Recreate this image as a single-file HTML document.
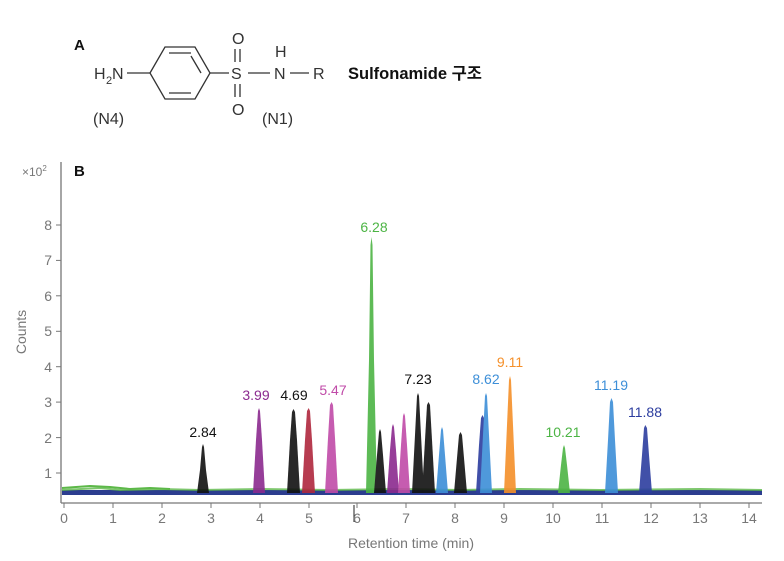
<!DOCTYPE html>
<html><head><meta charset="utf-8"><style>
body{margin:0;background:#fff;}
svg{display:block;font-family:"Liberation Sans","Noto Sans CJK KR",sans-serif;}
</style></head><body>
<svg width="784" height="561" viewBox="0 0 784 561">
<!-- Part A -->
<text x="74" y="50" font-size="15" font-weight="bold" fill="#111">A</text>
<g fill="#333" font-size="16" stroke="none">
<text x="94" y="79">H</text><text x="106" y="84" font-size="11">2</text><text x="112" y="79">N</text>
<text x="231" y="79">S</text>
<text x="232" y="44">O</text>
<text x="232" y="115">O</text>
<text x="274" y="79">N</text>
<text x="275" y="57">H</text>
<text x="313" y="79">R</text>
<text x="93" y="124">(N4)</text>
<text x="262" y="124">(N1)</text>
</g>
<g stroke="#333" stroke-width="1.3" fill="none">
<line x1="127" y1="73" x2="150" y2="73"/>
<polygon points="150,73 165,47 195,47 210,73 195,99 165,99"/>
<line x1="169" y1="53" x2="191" y2="53"/>
<line x1="169" y1="93" x2="191" y2="93"/>
<line x1="201" y1="73" x2="191" y2="56" />
<line x1="210" y1="73" x2="229" y2="73"/>
<line x1="235" y1="49" x2="235" y2="62"/><line x1="240" y1="49" x2="240" y2="62"/>
<line x1="235" y1="84" x2="235" y2="97"/><line x1="240" y1="84" x2="240" y2="97"/>
<line x1="248" y1="73" x2="270" y2="73"/>
<line x1="290" y1="73" x2="309" y2="73"/>
</g>
<text x="348" y="79" font-size="16.5" font-weight="bold" fill="#111">Sulfonamide 구조</text>

<!-- Part B -->
<text x="74" y="176" font-size="15" font-weight="bold" fill="#111">B</text>
<text x="22" y="176" font-size="12" fill="#777">×10<tspan font-size="8" dy="-5">2</tspan></text>
<g stroke="#777" stroke-width="1.3">
<line x1="61" y1="162" x2="61" y2="503"/>
<line x1="61" y1="503" x2="762" y2="503"/>
</g>
<g stroke="#777" stroke-width="1">
<line x1="56" y1="473" x2="61" y2="473"/><line x1="56" y1="437.6" x2="61" y2="437.6"/>
<line x1="56" y1="402.1" x2="61" y2="402.1"/><line x1="56" y1="366.7" x2="61" y2="366.7"/>
<line x1="56" y1="331.3" x2="61" y2="331.3"/><line x1="56" y1="295.8" x2="61" y2="295.8"/>
<line x1="56" y1="260.4" x2="61" y2="260.4"/><line x1="56" y1="225" x2="61" y2="225"/>
<line x1="64" y1="503" x2="64" y2="508"/><line x1="113" y1="503" x2="113" y2="508"/>
<line x1="162" y1="503" x2="162" y2="508"/><line x1="211" y1="503" x2="211" y2="508"/>
<line x1="260" y1="503" x2="260" y2="508"/><line x1="309" y1="503" x2="309" y2="508"/>
<line x1="357" y1="503" x2="357" y2="508"/><line x1="406" y1="503" x2="406" y2="508"/>
<line x1="455" y1="503" x2="455" y2="508"/><line x1="504" y1="503" x2="504" y2="508"/>
<line x1="553" y1="503" x2="553" y2="508"/><line x1="602" y1="503" x2="602" y2="508"/>
<line x1="651" y1="503" x2="651" y2="508"/><line x1="700" y1="503" x2="700" y2="508"/>
<line x1="749" y1="503" x2="749" y2="508"/>
<line x1="354" y1="505" x2="354" y2="522" stroke="#222"/>
</g>
<g font-size="14" fill="#777" text-anchor="end">
<text x="52" y="478">1</text><text x="52" y="443">2</text><text x="52" y="407">3</text>
<text x="52" y="372">4</text><text x="52" y="336">5</text><text x="52" y="301">6</text>
<text x="52" y="265">7</text><text x="52" y="230">8</text>
</g>
<g font-size="14" fill="#777" text-anchor="middle">
<text x="64" y="523">0</text><text x="113" y="523">1</text><text x="162" y="523">2</text>
<text x="211" y="523">3</text><text x="260" y="523">4</text><text x="309" y="523">5</text>
<text x="357" y="523">6</text><text x="406" y="523">7</text><text x="455" y="523">8</text>
<text x="504" y="523">9</text><text x="553" y="523">10</text><text x="602" y="523">11</text>
<text x="651" y="523">12</text><text x="700" y="523">13</text><text x="749" y="523">14</text>
<text x="411" y="548">Retention time (min)</text>
</g>
<text transform="translate(26,332) rotate(-90)" font-size="14" fill="#777" text-anchor="middle">Counts</text>

<!-- baseline -->
<rect x="62" y="490" width="700" height="5" fill="#2c3d8f"/>
<path d="M62,490 L100,488 L120,490 L160,489 L200,490 L260,489 L330,490 L400,489 L460,490 L520,489 L600,490 L700,489 L762,490" stroke="#5cb848" stroke-width="2" fill="none" opacity="0.8"/>
<path d="M62,488 L90,486 L110,487 L130,489 L150,488 L170,489" stroke="#5cb848" stroke-width="2" fill="none"/>

<!-- peaks: base 493 -->
<g opacity="0.9">
<path d="M197,493 L200,470 L202,447 L203,444 L204,447 L206,470 L209,493Z" fill="#111"/>
<path d="M253,493 L256,440 L258,411 L259,408 L260,411 L262,440 L265,493Z" fill="#8b2a8f"/>
<path d="M287,493 L290,440 L292,412 L293.5,409 L295,412 L297,440 L300,493Z" fill="#111"/>
<path d="M302,493 L305,440 L307,411 L308.7,408 L310,411 L312,440 L315,493Z" fill="#b0283e"/>
<path d="M325,493 L328,438 L330,405 L331.6,402 L333,405 L335,438 L338,493Z" fill="#c04ba8"/>
<path d="M366,493 L369,360 L370.5,245 L371.5,237 L372.5,245 L374,360 L377,493Z" fill="#4cb444"/>
<path d="M374,493 L377,455 L379,432 L380,429 L381,432 L383,455 L386,493Z" fill="#111"/>
<path d="M387,493 L390,450 L392,427 L393,424 L394,427 L396,450 L399,493Z" fill="#8b2a8f"/>
<path d="M398,493 L401,445 L403,416 L404,413 L405,416 L407,445 L410,493Z" fill="#c04ba8"/>
<path d="M412,493 L415,435 L417,396 L418,393 L419,396 L421,435 L424,493Z" fill="#111"/>
<path d="M422,493 L425,440 L427,405 L428.5,402 L430,405 L432,440 L435,493Z" fill="#111"/>
<path d="M436,493 L439,455 L441,430 L442,427 L443,430 L445,455 L448,493Z" fill="#3d8fd8"/>
<path d="M454,493 L457,458 L459,435 L460.5,432 L462,435 L464,458 L467,493Z" fill="#111"/>
<path d="M476,493 L479,445 L481,418 L482.5,415 L484,418 L486,445 L489,493Z" fill="#2c3d9f"/>
<path d="M480,493 L483,435 L485,396 L486,393 L487,396 L489,435 L492,493Z" fill="#3d8fd8"/>
<path d="M504,493 L507,425 L509,380 L510,376 L511,380 L513,425 L516,493Z" fill="#f5902a"/>
<path d="M558,493 L561,465 L563,448 L564,445 L565,448 L567,465 L570,493Z" fill="#4cb444"/>
<path d="M605,493 L608,440 L610,402 L611.5,398 L613,402 L615,440 L618,493Z" fill="#3d8fd8"/>
<path d="M639,493 L642,455 L644,428 L645.3,425 L647,428 L649,455 L652,493Z" fill="#2c3d9f"/>
</g>

<!-- peak labels -->
<g font-size="14" text-anchor="middle">
<text x="203" y="437" fill="#111">2.84</text>
<text x="256" y="400" fill="#8b2a8f">3.99</text>
<text x="294" y="400" fill="#111">4.69</text>
<text x="333" y="395" fill="#c04ba8">5.47</text>
<text x="374" y="232" fill="#4cb444">6.28</text>
<text x="418" y="384" fill="#111">7.23</text>
<text x="486" y="384" fill="#3d8fd8">8.62</text>
<text x="510" y="367" fill="#f5902a">9.11</text>
<text x="563" y="437" fill="#4cb444">10.21</text>
<text x="611" y="390" fill="#3d8fd8">11.19</text>
<text x="645" y="417" fill="#2c3d9f">11.88</text>
</g>
</svg>
</body></html>
